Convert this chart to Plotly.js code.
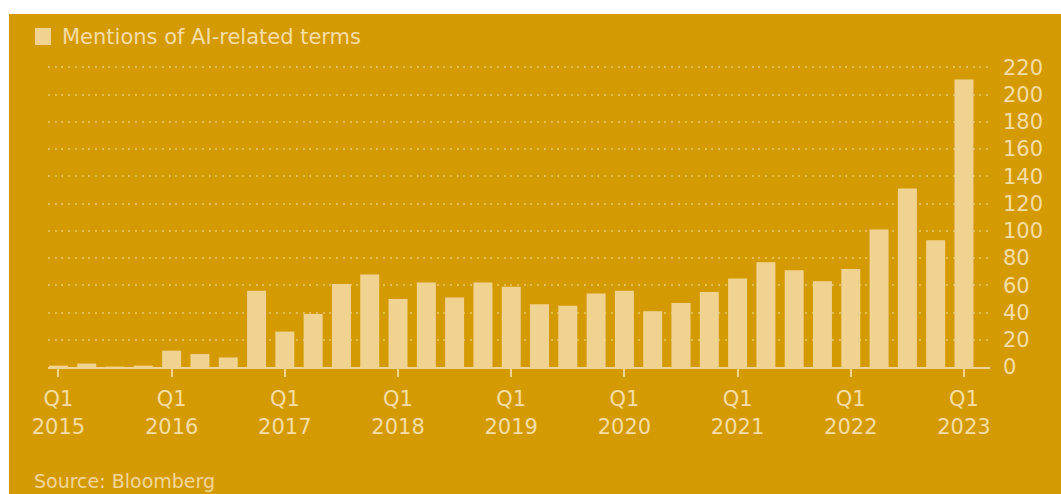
<!DOCTYPE html>
<html>
<head>
<meta charset="utf-8">
<script src="https://cdn.plot.ly/plotly-3.0.1.min.js"></script>
<style>
html,body{margin:0;padding:0;background:#ffffff;overflow:hidden;}
#chart{position:absolute;left:9px;top:14px;width:1052px;height:480px;}
</style>
</head>
<body>
<div id="chart"></div>
<script>
const quarters = [
  "2015 Q1","2015 Q2","2015 Q3","2015 Q4",
  "2016 Q1","2016 Q2","2016 Q3","2016 Q4",
  "2017 Q1","2017 Q2","2017 Q3","2017 Q4",
  "2018 Q1","2018 Q2","2018 Q3","2018 Q4",
  "2019 Q1","2019 Q2","2019 Q3","2019 Q4",
  "2020 Q1","2020 Q2","2020 Q3","2020 Q4",
  "2021 Q1","2021 Q2","2021 Q3","2021 Q4",
  "2022 Q1","2022 Q2","2022 Q3","2022 Q4",
  "2023 Q1"
];
const mentions = [
  1, 2.5, 0.3, 1,
  12, 9.5, 7, 56,
  26, 39, 61, 68,
  50, 62, 51, 62,
  59, 46, 45, 54,
  56, 41, 47, 55,
  65, 77, 71, 63,
  72, 101, 131, 93,
  211
];
const tickQuarters = ["2015 Q1","2016 Q1","2017 Q1","2018 Q1","2019 Q1","2020 Q1","2021 Q1","2022 Q1","2023 Q1"];
const tickLabels = ["Q1<br>2015","Q1<br>2016","Q1<br>2017","Q1<br>2018","Q1<br>2019","Q1<br>2020","Q1<br>2021","Q1<br>2022","Q1<br>2023"];
const yTicks = [0,20,40,60,80,100,120,140,160,180,200,220];
const seriesName = "Mentions of AI-related terms";
const sourceText = "Source: Bloomberg";

const BG = "#D49A02";
const BAR = "#F0D391";
const TXT = "#F5DDA4";
const FONT = "DejaVu Sans";

const trace = {
  type: "bar",
  x: quarters,
  y: mentions,
  name: seriesName,
  marker: {color: BAR, line: {width: 0}},
  hoverinfo: "x+y"
};

const layout = {
  width: 1052,
  height: 480,
  paper_bgcolor: BG,
  plot_bgcolor: BG,
  margin: {l: 39, r: 71, t: 52, b: 127},
  bargap: 0.33,
  font: {family: FONT, color: TXT, size: 21},
  showlegend: false,
  xaxis: {
    type: "category",
    range: [-0.37, 32.92],
    tickmode: "array",
    tickvals: tickQuarters,
    ticktext: tickLabels,
    ticks: "outside",
    ticklen: 8,
    tickwidth: 2,
    tickcolor: BAR,
    ticklabelstandoff: 4,
    showline: true,
    linecolor: BAR,
    linewidth: 2,
    showgrid: false,
    zeroline: false,
    tickfont: {family: FONT, size: 21, color: TXT},
    fixedrange: true
  },
  yaxis: {
    side: "right",
    range: [0, 221],
    tickmode: "array",
    tickvals: yTicks,
    ticks: "",
    showgrid: true,
    gridcolor: "rgba(245,221,160,0.5)",
    gridwidth: 2,
    griddash: "2px,4.7px",
    zeroline: false,
    showline: false,
    ticklabelstandoff: 12,
    tickfont: {family: FONT, size: 21, color: TXT},
    fixedrange: true
  },
  shapes: [{
    type: "rect", xref: "paper", yref: "paper",
    x0: -0.0138, x1: 0.0032, y0: 1.0698, y1: 1.1262,
    fillcolor: BAR, line: {width: 0}
  }],
  annotations: [{
    xref: "paper", yref: "paper",
    x: 0.0127, y: 1.0963,
    xanchor: "left", yanchor: "middle",
    showarrow: false,
    text: seriesName,
    font: {family: FONT, size: 21, color: TXT}
  }, {
    xref: "paper", yref: "paper",
    x: -0.017, y: -0.3787,
    xanchor: "left", yanchor: "middle",
    showarrow: false,
    text: sourceText,
    font: {family: FONT, size: 19, color: "#F2D69A"}
  }]
};

Plotly.newPlot("chart", [trace], layout, {displayModeBar: false, staticPlot: true});
</script>
</body>
</html>
